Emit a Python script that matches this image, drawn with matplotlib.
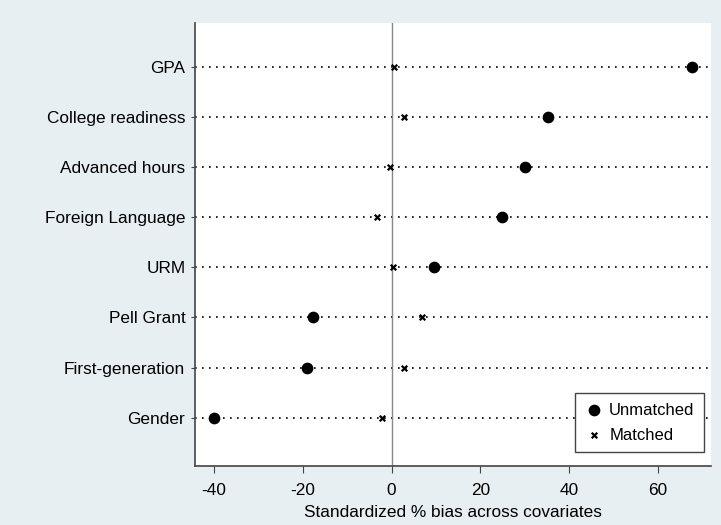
import matplotlib as mpl
mpl.use('Agg')
import matplotlib.pyplot as plt

covariates = ['Gender', 'First-generation', 'Pell Grant', 'URM',
              'Foreign Language', 'Advanced hours', 'College readiness', 'GPA']
unmatched = [-40.0, -19.0, -17.6, 9.6, 25.0, 30.1, 35.3, 67.7]
matched = [-2.1, 2.7, 6.9, 0.4, -3.2, -0.3, 2.9, 0.6]
xticks = [-40, -20, 0, 20, 40, 60]

plt.rcParams['font.family'] = ['Liberation Sans', 'DejaVu Sans']
plt.rcParams['font.size'] = 12.4
plt.rcParams['axes.unicode_minus'] = False

bg = '#e8eff2'
fig = plt.figure(figsize=(7.21, 5.25), dpi=100, facecolor=bg)
ax = fig.add_axes([0.2705, 0.1124, 0.7155, 0.8438])
ax.set_facecolor('white')

ypos = list(range(len(covariates)))
for y in ypos:
    ax.axhline(y, color='black', linestyle=(0, (1, 3.2)), linewidth=1.2, zorder=1)
ax.axvline(0, color='#888888', linewidth=1, zorder=1)

ax.scatter(unmatched, ypos, marker='o', s=55, color='black', zorder=3, label='Unmatched')
ax.scatter(matched, ypos, marker='x', s=16, color='black', linewidths=1.6, zorder=3, label='Matched')

ax.set_xlim(-44.3, 72.0)
ax.set_ylim(-0.96, 7.87)
ax.set_yticks(ypos)
ax.set_yticklabels(covariates)
ax.set_xticks(xticks)
ax.set_xlabel('Standardized % bias across covariates', labelpad=5)

for side in ['top', 'right']:
    ax.spines[side].set_visible(False)
for side in ['left', 'bottom']:
    ax.spines[side].set_color('#444444')
    ax.spines[side].set_linewidth(1.2)
ax.tick_params(axis='y', length=3, color='#444444', pad=4)
ax.tick_params(axis='x', length=5, color='#444444', pad=7)

leg = ax.legend(loc='lower right', bbox_to_anchor=(0.986, 0.032), frameon=True, fancybox=False,
                edgecolor='#444444', framealpha=1, handletextpad=0.3, borderpad=0.55,
                labelspacing=0.6, handlelength=1.2, borderaxespad=0, fontsize=12)
leg.get_frame().set_linewidth(1.0)

plt.savefig('out.png', dpi=100, facecolor=bg)
